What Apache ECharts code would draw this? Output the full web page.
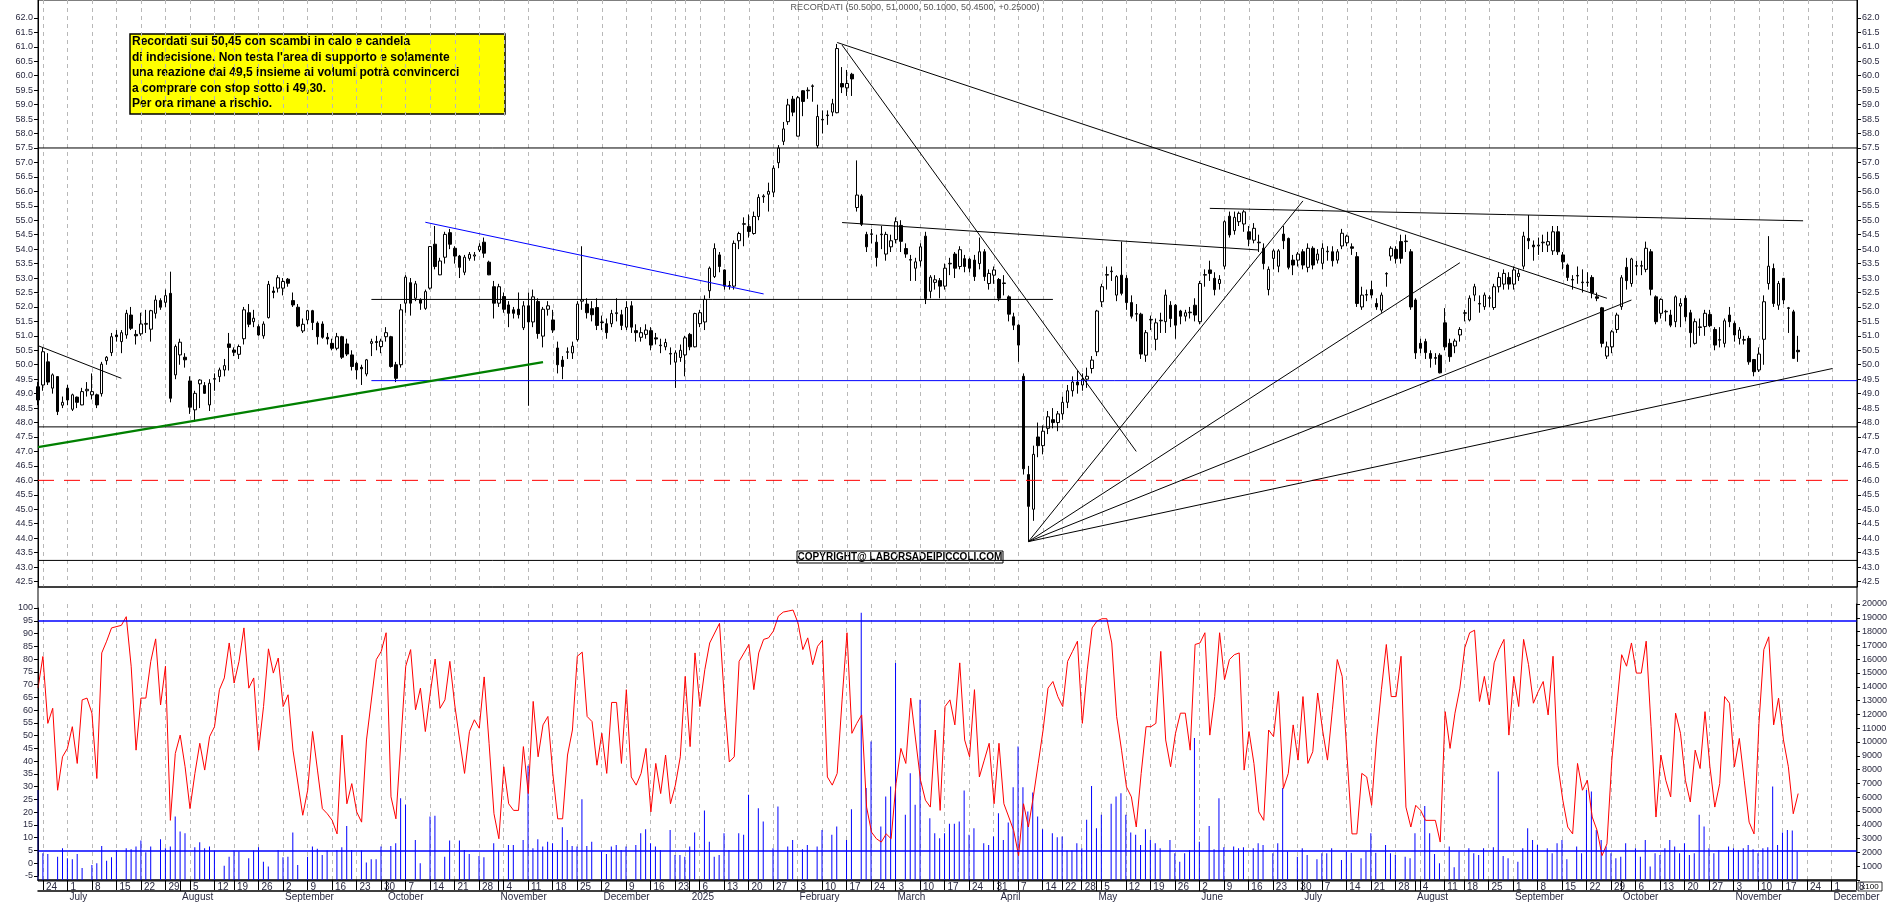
<!DOCTYPE html>
<html><head><meta charset="utf-8">
<script src="https://cdn.jsdelivr.net/npm/echarts@6.0.0/dist/echarts.min.js"></script>
<style>html,body{margin:0;padding:0;background:#fff}#c{width:1890px;height:902px}</style>
</head><body><div id="c"></div>
<script>
// ---------- DATA ----------
const startDate = '2024-06-21', endDate = '2025-12-08';
const holidays = ['2024-08-15','2024-12-24','2024-12-25','2024-12-26','2024-12-31','2025-01-01','2025-04-18','2025-04-21','2025-05-01','2025-08-15'];
const lastCandleDate = '2025-11-20';
const monthNames = ['2025','February','March','April','May','June','July','August','September','October','November','December'];
const priceTicks = [42.5,43.0,43.5,44.0,44.5,45.0,45.5,46.0,46.5,47.0,47.5,48.0,48.5,49.0,49.5,50.0,50.5,51.0,51.5,52.0,52.5,53.0,53.5,54.0,54.5,55.0,55.5,56.0,56.5,57.0,57.5,58.0,58.5,59.0,59.5,60.0,60.5,61.0,61.5,62.0];
// candles [open, close, low, high]
const ohlc = [
[49.24,48.78,48.6,49.4],[49.3,50.45,49.1,50.6],[50.1,49.4,49.3,50.4],[49.19,49.65,49.0,49.7],[49.59,48.38,48.26,49.6],[48.6,48.7,48.5,48.9],[49.19,48.78,48.6,49.3],[48.46,48.96,48.4,49.0],[48.88,48.7,48.5,48.9],[48.61,49.07,48.6,49.2],
[49.1,49.15,48.9,49.4],[48.96,49.07,48.8,49.7],[48.96,48.61,48.5,49.0],[49.0,50.02,48.9,50.1],[50.14,50.26,50.0,50.3],[50.42,50.97,50.3,51.1],[51.03,50.97,50.8,51.2],[50.8,51.11,50.4,51.2],[51.03,51.78,50.9,51.9],[51.72,51.26,51.2,52.0],
[51.05,51.0,50.7,51.2],[51.07,51.41,51.0,51.8],[51.4,51.43,51.1,51.9],[51.23,51.87,50.8,51.9],[51.78,52.24,51.6,52.4],[52.22,51.99,51.9,52.3],[52.16,52.39,52.0,52.6],[52.47,48.84,48.7,53.22],[49.65,50.63,49.5,50.7],[50.34,50.78,50.0,50.9],
[50.26,50.17,49.9,50.4],[49.44,48.53,48.3,49.6],[48.44,49.01,48.03,49.1],[49.34,49.47,48.5,49.5],[49.28,49.01,49.0,49.4],[48.61,49.36,48.4,49.5],[49.5,49.52,49.1,49.7],[49.59,49.82,49.4,49.9],[49.82,49.97,49.6,50.2],[50.72,50.6,49.8,51.1],
[50.51,50.43,50.3,50.6],[50.36,50.63,50.2,50.7],[50.9,51.9,50.7,52.0],[51.8,51.4,51.3,52.1],[51.49,51.61,51.3,51.9],[51.32,51.03,51.0,51.4],[51.0,51.41,50.9,51.5],[51.63,52.78,51.6,52.9],[52.55,52.5,52.3,52.7],[52.65,53.01,52.5,53.1],
[52.65,52.88,52.4,53.0],[52.96,52.82,52.7,53.0],[52.22,52.07,52.0,52.5],[51.99,51.34,51.3,52.1],[51.17,51.4,51.1,51.6],[51.55,51.87,51.4,51.9],[51.87,51.46,51.2,51.9],[51.44,50.97,50.7,51.5],[51.41,50.95,50.9,51.5],[50.95,50.89,50.7,51.1],
[50.74,50.57,50.5,50.9],[50.57,50.97,50.5,51.1],[50.97,50.26,50.2,51.0],[50.72,50.37,50.3,50.9],[50.34,49.94,49.8,50.5],[50.05,49.82,49.5,50.1],[49.91,49.86,49.3,50.0],[49.68,50.17,49.6,50.2],[50.74,50.8,50.3,50.9],[50.8,50.77,50.5,51.0],
[50.63,50.82,50.4,50.9],[50.97,51.11,50.8,51.3],[50.97,49.94,49.9,51.0],[50.0,49.53,49.4,50.1],[50.0,51.9,49.9,52.1],[52.13,53.03,51.8,53.1],[52.84,52.13,51.7,53.0],[52.3,52.8,52.2,52.9],[52.24,52.13,51.9,52.3],[51.95,52.53,51.9,52.6],
[52.65,54.09,52.6,54.1],[54.17,53.4,53.3,54.8],[53.11,53.59,53.1,53.7],[53.72,54.51,53.5,54.6],[54.57,54.17,54.0,54.7],[54.03,53.76,53.5,54.1],[53.76,53.37,53.0,53.8],[53.2,53.72,53.1,53.8],[53.68,53.82,53.6,53.9],[53.76,53.8,53.6,53.9],
[53.97,54.1,53.9,54.2],[54.24,53.86,53.7,54.4],[53.55,53.11,53.1,53.6],[52.7,52.13,51.6,52.9],[52.13,52.7,52.0,52.8],[52.36,51.92,51.8,52.5],[52.07,51.78,51.3,52.2],[51.9,51.78,51.6,52.0],
[51.92,51.73,51.6,52.5],[51.28,52.04,51.2,52.2],[52.04,51.48,48.58,52.5],[51.48,52.35,51.3,52.6],[52.19,51.08,50.9,52.3],[50.99,51.92,50.6,52.0],[51.92,52.04,51.7,52.2],[51.55,51.2,51.1,51.9],[50.58,50.0,49.7,50.8],[50.16,49.94,49.5,50.3],
[50.43,50.45,50.2,50.6],[50.41,50.64,50.2,50.8],[50.87,52.1,50.8,52.2],[52.2,52.25,51.9,54.1],[52.1,51.8,51.6,52.3],[51.94,51.73,51.5,52.2],[51.98,51.36,51.2,52.3],[51.46,51.48,51.2,51.7],[51.42,51.11,50.9,51.6],[51.42,51.77,51.3,51.9],
[51.77,51.8,51.5,52.3],[51.73,51.36,51.2,51.9],[51.3,51.98,51.2,52.2],[52.04,51.3,51.1,52.2],[51.18,51.11,50.8,51.4],[50.95,51.11,50.8,51.3],[51.05,51.2,50.9,51.4],[51.18,50.68,50.5,51.3],[50.93,50.89,50.7,51.1],[50.66,50.68,50.4,50.9],
[50.62,50.77,50.5,50.9],[50.37,50.39,50.0,50.6],[50.09,50.41,49.2,50.5],[50.25,50.5,50.1,50.7],[50.34,50.93,49.6,51.0],[51.05,50.62,50.5,51.1],[50.62,51.77,50.6,51.8],[51.42,51.8,51.3,51.9],[51.48,52.26,51.2,52.4],[52.56,53.34,52.3,53.4],
[53.05,54.02,53.0,54.2],[53.8,53.4,53.2,53.9],[53.28,52.72,52.6,53.3],[52.72,52.74,52.6,52.9],[52.72,54.2,52.6,54.3],[54.29,54.54,54.0,54.6],[54.86,54.88,54.1,55.1],[54.78,54.61,54.4,55.2],[54.54,55.13,54.5,55.3],[55.13,55.79,55.0,55.9],
[55.81,55.84,55.6,55.9],[55.9,56.0,55.3,56.3],[55.97,56.8,55.8,56.9],[56.99,57.5,56.8,57.6],[57.73,58.16,57.6,58.4],[58.41,58.99,58.3,59.2],[59.19,58.74,58.6,59.3],[57.91,59.24,57.9,59.3],[59.48,59.11,58.6,59.5],[59.48,59.5,59.2,59.6],
[59.63,59.65,59.1,59.7],[57.58,58.59,57.5,59.0],[58.47,58.49,58.0,58.8],[58.62,58.64,58.3,58.8],[58.74,59.03,58.6,59.2],[58.72,60.94,58.7,61.1],[59.73,59.61,59.4,60.3],[59.58,59.73,59.3,60.2],[60.05,59.89,59.3,60.1],[55.44,55.87,55.3,57.07],
[55.84,54.86,54.8,55.9],[54.51,54.08,53.9,54.6],[54.51,54.53,54.2,54.7],[54.24,53.71,53.4,54.5],[54.5,54.52,54.0,54.8],[53.83,54.51,53.6,54.6],[54.08,54.29,53.9,54.5],[54.33,54.95,54.2,55.1],[54.82,54.27,53.9,55.0],[54.02,53.83,53.7,54.2],
[53.62,53.64,52.9,53.8],[53.34,53.56,52.9,53.7],[53.59,54.08,53.4,54.2],[54.45,52.29,52.1,54.6],[52.54,53.03,52.3,53.1],[52.85,52.94,52.6,53.1],[52.91,52.72,52.3,53.0],[52.72,53.34,52.6,53.5],[53.49,53.51,53.1,53.7],[53.83,53.34,53.0,53.9],
[53.4,53.98,53.3,54.1],[53.67,53.4,53.2,53.8],[53.65,53.34,53.2,53.7],
[53.62,53.05,52.9,53.8],[53.5,53.91,53.3,54.4],[53.91,53.05,52.9,54.0],[52.81,53.16,52.6,53.3],[53.1,53.28,52.8,53.4],[52.95,52.3,52.2,53.0],[52.81,52.83,52.4,53.1],[52.35,51.75,51.5,52.4],[51.66,51.37,51.2,51.8],[51.37,50.68,50.1,51.4],
[49.6,46.4,46.2,49.7],[46.2,45.1,43.9,46.5],[45.0,46.9,44.6,47.2],[47.5,47.2,46.8,48.0],[47.2,47.7,46.9,47.9],[47.8,48.2,47.6,48.4],[48.1,48.0,47.8,48.5],[48.0,48.3,47.7,48.4],[48.3,48.7,48.1,48.9],[48.7,49.1,48.5,49.3],
[49.1,49.4,48.9,49.6],[49.4,49.3,49.0,49.8],[49.3,49.5,49.1,49.7],[49.5,49.6,49.2,49.9],[49.87,50.16,49.7,50.3],
[50.45,51.86,50.3,51.9],[52.18,52.7,52.0,52.8],[53.1,53.12,52.6,53.4],[53.22,53.24,52.9,53.4],[52.41,53.05,52.2,53.1],[53.1,52.47,52.4,54.26],[52.99,52.15,51.9,53.1],[52.15,51.68,51.6,52.4],[51.75,51.77,51.5,52.1],[51.75,50.37,50.2,51.8],
[50.33,51.11,50.1,51.2],[51.55,51.57,51.2,51.7],[50.88,51.45,50.5,51.6],[51.52,51.54,51.1,51.8],[51.49,52.41,51.1,52.6],[52.06,51.6,51.3,52.2],[52.06,51.37,50.9,52.1],[51.86,51.68,51.4,51.9],[51.68,51.8,51.5,51.9],[51.8,51.82,51.6,52.0],
[52.06,51.72,51.5,52.3],[51.49,52.81,51.4,52.9],[53.1,53.12,52.7,53.3],[53.28,53.16,52.9,53.6],[52.99,52.6,52.4,53.2],[52.81,52.95,52.6,53.1],[53.41,54.95,53.3,55.0],[55.14,54.49,54.4,55.3],[54.64,55.1,54.5,55.3],[54.95,55.24,54.8,55.3],
[54.87,55.29,54.6,55.35],[54.6,54.34,54.1,54.8],[54.31,54.72,54.2,54.9],[54.22,54.24,53.9,54.5],[54.03,53.5,53.3,54.2],[52.6,53.3,52.4,53.4],[53.68,53.94,53.3,54.0],[53.41,53.94,53.2,54.0],[54.52,54.29,54.0,54.8],[54.37,53.37,53.3,54.4],
[53.62,53.45,53.1,53.8],[53.62,53.83,53.4,53.9],[53.91,53.45,53.3,54.0],[53.37,54.03,53.2,54.2],[54.03,53.45,53.3,54.1],[53.62,53.83,53.5,54.0],[53.51,54.03,53.3,54.2],[53.91,53.93,53.6,54.1],[53.91,53.6,53.4,54.1],[53.62,53.91,53.5,54.0],
[54.11,54.55,54.0,54.7],[54.22,54.45,54.1,54.5],[54.08,54.03,53.8,54.2],[53.74,52.12,52.0,53.9],[52.0,52.41,51.9,52.7],[52.41,52.43,52.2,52.6],[52.6,52.41,52.3,52.9],[52.12,52.0,51.9,52.3],[51.89,52.41,51.8,52.5],[53.14,53.16,52.7,53.2],
[53.76,54.03,53.6,54.1],[53.99,53.68,53.5,54.1],[54.26,53.68,53.5,54.5],[54.26,54.28,53.9,54.5],[53.91,52.0,51.9,54.0],[52.24,50.41,50.2,52.3],
[50.74,50.57,50.4,50.9],[50.8,50.42,50.2,50.9],[50.39,50.22,49.9,50.5],[50.22,50.25,50.0,50.4],[50.33,49.72,49.7,50.4],[51.45,50.62,50.5,51.96],[50.74,50.28,50.1,50.9],[50.65,50.82,50.4,50.9],[51.03,51.22,50.8,51.3],[51.78,51.8,51.5,51.9],
[51.55,52.3,51.5,52.4],[52.41,52.7,52.2,52.8],[52.1,52.12,51.8,52.4],[52.01,52.41,51.9,52.5],[52.3,52.32,52.0,52.4],[51.98,52.7,51.9,52.8],[52.7,53.02,52.5,53.2],[52.79,53.16,52.6,53.3],[53.02,52.79,52.6,53.2],[52.79,53.28,52.6,53.4],
[53.05,53.16,52.9,53.3],[53.41,54.45,53.3,54.6],[54.37,54.29,54.0,55.18],[54.14,54.08,53.6,54.3],[54.11,54.14,53.8,54.4],[54.22,54.24,53.9,54.5],[54.14,54.26,53.9,54.6],[53.94,54.6,53.8,54.8],[54.6,53.91,53.8,54.8],[53.8,53.56,53.3,53.9],
[53.45,53.02,52.9,53.5],[52.93,52.95,52.6,53.1],[53.07,53.09,52.8,53.4],[52.84,52.86,52.5,53.3],[52.84,52.86,52.7,53.2],[53.02,52.49,52.3,53.1],[52.35,52.3,52.2,52.5],[51.97,50.74,50.6,52.0],[50.3,50.62,50.2,50.8],[50.62,51.14,50.4,51.2],
[51.22,51.72,51.1,51.8],[52.01,53.01,51.9,53.1],[53.37,52.91,52.6,53.7],[52.81,53.66,52.7,53.7],[53.41,53.43,53.1,53.6],[53.41,53.43,53.1,53.6],[53.3,54.03,53.2,54.26],[53.91,52.61,52.4,54.0],[52.35,51.49,51.4,52.4],[51.78,52.26,51.6,52.3],
[51.83,51.85,51.5,51.9],[51.72,51.37,51.3,51.9],[51.49,52.35,51.3,52.4],[52.03,52.12,51.3,52.3],[52.3,51.66,51.5,52.4],[51.8,51.11,50.6,51.9],[50.74,51.49,50.7,51.6],[51.29,51.31,51.0,51.6],[51.32,51.78,51.0,51.9],[51.74,51.35,51.3,51.9],
[51.22,50.68,50.5,51.3],[50.85,50.87,50.6,51.3],[50.74,51.52,50.6,51.6],[51.72,51.49,51.3,52.0],[51.43,51.03,50.8,51.5],[50.91,51.2,50.7,51.3],[50.85,50.87,50.7,51.0],[50.91,50.1,50.0,51.0],[50.18,49.76,49.6,50.2],[49.82,50.37,49.75,50.6],
[50.88,52.18,50.0,52.4],[52.81,53.41,52.6,54.45],[53.33,52.12,52.0,53.5],[52.06,52.81,51.9,52.9],[52.99,52.24,52.1,53.0],[51.95,51.97,51.1,52.0],[51.83,50.22,50.2,51.9],[50.5,50.45,50.1,51.0]
];
// stochastic key readings [tradingDayIndex, value]
const stochA = [[0,68.6],[1,81],[2,54.8],[3,60.7],[4,28.6],[5,41.7],[6,45],[7,53.5],[8,39.1],[9,64],[10,64.7],[11,58.8],[12,33.2],[13,82.4],[14,87],[15,92.2],[17,93.2],[18,96.6],[19,77.2],[20,44.3],[21,64.7],[22,64.7],[23,79.1],[24,87.9],[25,62],[26,77.2],[27,16.8],[28,43],[29,50.2],[30,37.8],[31,21.4],[32,35.2],[33,47],[34,36.5],[35,49.6],[36,53.5],[37,68],[38,72.6],[39,86.3],[40,70.6],[41,79.1],[42,92.2],[43,68.6],[44,72.6],[45,44.3],[46,61.4],[47,84],[48,74.5],[49,80.4],[50,61.4],[51,66],[52,44.3],[54,18.8],[55,28.6],[56,51.6],[57,36.5],[58,21.4],[59,19.4],[60,16.8],[61,11.5],[62,50.2],[63,23.3],[64,31.2],[65,20.1],[66,16.1],[67,48.3],[69,79.8],[70,83],[71,90.3],[72,26],[73,17.4],[75,77.2],[76,83.7],[77,60.1],[78,68.6],[79,51.6],[80,66.7],[81,80],[82,60.7],[83,64],[84,79.1],[85,62],[86,48.3],[87,35.2],[88,51.6],[89,56.2],[90,52.9],[91,73],[92,47],[93,19.4],[94,9.6],[95,37.8],[96,23.3],[97,20.7],[98,20.7],[99,45.7],[100,27.3],[101,63.4],[102,41.7],[103,54.2],[104,57.5],[105,35.2],[106,17.4],[107,17.4],[108,42.4],[109,52.2],[110,81.1],[111,82.7],[112,57.5],[113,55.5],[114,38.4],[115,50.9],[116,35.2],[117,63],[118,63],[119,39.1],[120,68],[121,33.8],[122,30.6],[123,35.2],[124,45],[125,20.1],[126,39.1],[127,27.3],[128,42.4],[129,23.3],[130,30.6],[131,41.7],[132,73.2],[133,45.7],[134,82.4],[135,61.4],[136,75.8],[137,86.3],[139,94],[140,64],[141,39.7],[142,41.7],[143,79.1],[144,82.4],[145,85.7],[146,68],[147,82.4],[148,87.7],[149,88.3],[150,91],[151,96.8],[152,98.4],[153,98.8],[154,99.2],[155,94.2],[156,83.7],[157,88.3],[158,77.8],[159,85],[160,87.4],[161,33.8],[162,30.6],[163,35.2],[164,64],[165,90.3],[166,50.9],[167,54.8],[168,58.1],[169,22],[170,12.2],[171,9.6],[172,8.3],[173,11.5],[174,9.6],[175,31.2],[176,45],[177,39.1],[178,64.7],[179,48.3],[180,32.5],[181,24.7],[182,22],[183,52.2],[184,20.7],[185,41.7]];
const stochB = [[186,61.4],[187,64],[188,54.2],[189,78.5],[190,48.3],[191,41.7],[192,68],[193,33.8],[194,40.4],[195,47],[196,23.3],[197,47],[198,23.3],[199,18.1],[200,12.8],[201,3],[202,23.3],[203,14.2],[204,26],[205,39.1],[206,52.2],[207,68.6],[208,71.2],[209,65.3],[210,61.4],[211,79.1],[212,83],[213,87],[214,54.8],[215,75.8],[216,92.2],[217,94.9],[218,95.8],[219,95.8],[220,86.3],[221,57.5],[222,44.3],[223,29.9],[224,26],[225,14.2],[226,35.2],[227,53.5],[228,53.5],[229,54.8],[230,83],[231,48.3],[232,37.8],[233,50.9],[234,58.8],[235,58.8],[236,44.3],[237,85.7],[238,86.3],[239,90.3],[240,50.2],[241,65.3],[242,90.3],[243,71.9],[244,79.8],[245,81.7],[246,82.4],[247,36.5],[248,51.6],[249,39.1],[250,20.1],[251,16.8],[252,52.2],[253,49.6],[254,67.3],[255,29.3],[256,35.2],[257,54.2],[258,40.4],[259,65.3],[260,39.1],[261,43.7],[262,66.7],[263,52.2],[264,40.4],[265,60.1],[266,79.8],[267,73.2],[268,41.7],[269,11.5],[270,11.5],[271,35.2],[272,33.8],[273,22.7],[274,48.3],[275,68],[276,85.7],[277,65.3],[278,65.3],[279,81.1],[280,22],[281,14.2],[282,22.7],[283,20.7],[284,16.8],[286,16.8],[287,8.3],[288,59.4],[289,45],[290,58.8],[291,68.6],[292,84.4],[293,90.3],[294,91.3],[295,63.4],[296,73.2],[297,62],[298,78.5],[299,83.7],[300,87.7],[301,50.2],[302,73.2],[303,61.4],[304,87.7],[305,77.8],[306,62.7],[307,67.3],[308,71.2],[309,58.1],[310,81.1],[311,38.4],[312,24.7],[313,14.2],[314,11.5],[315,39.1],[316,28.6],[317,32.5],[318,18.1],[319,12.8],[320,3],[321,7.6],[322,40.4],[323,61.4],[324,81.7],[325,77.2],[326,86.3],[327,74.5],[328,74.5],[329,87],[330,53.5],[331,18.1],[332,42.4],[333,32.5],[334,26],[335,58.8],[336,50.9],[337,32.5],[338,24],[339,44.3],[340,37.1],[341,59.4],[342,37.8],[343,22],[344,31.2],[345,65.3],[346,62.7],[347,37.8],[348,48.9],[349,32.5],[350,16.1],[351,11.5],[352,54.8],[353,83.7],[354,88.7],[355,54.2],[356,64.7],[357,48.3],[358,37.8],[359,19.4],[360,27.3]];
// volumes (axis units, x100) read left to right, with anchors [valueIndex, tradingDayIndex]
const volA = [6530,1940,1890,1690,2300,1570,1500,1890,870,1090,1210,2470,1400,1650,2180,2300,2230,2420,2860,2010,2420,2950,2300,2420,4600,3510,3390,2370,2730,2300,2420,2130,1040,1690,2130,2060,1570,2130,2370,1330,970,2180,1650,1690,3440,1090,1690,2420,2270,1820,2130,2180,2370,3920,2180,2130,1260,1500,1500,2420,2470,2660,5930,5450,2900,1210,4600,4650,1690,2860,2860,2180,1890,1740,1650,2660,2130,2540,2540,2900,8280,2300,2950,2420,2780,2660,2180,3820,2900,2470,2420,5860,2470,2780,2060,1890,2420,2540,2180,2420,2540,3390,3680,2660,2420,2180,3630,1820,1820,1690,2420,3440,5030,2780,1690,1820,3390,2180,3390,3270,6170,5200,4240,2300,5320,2420,2900,2230,2540,2420,3630,3270,3870,2900,5130,19360,6660,10040,3870,6050,6780,15730,4720,7740,5450,13070,4480,3390,3030];
const volAAnchors = [[0,0],[24,28],[62,74],[80,100],[91,111],[120,145],[135,168],[148,184]];
const volB = [3390,4070,4070,4240,6490,3270,3750,2660,2540,3150,4840,2900,4160,6730,9680,6730,4960,6340,4600,3680,3390,3100,3150,2130,2130,2660,2300,4360,6820,3750,4720,5520,6050,6290,4720,3440,3270,2540,3680,2900,2660,2300,2900,1940,1330,1940,2180,10290,2780,3920,2230,5930,2370,2420,2300,2370,2300,2660,2540,1940,2660,6660,2060,1690,2300,1820,1500,1940,1940,2300,1450,2060,1980,1570,2060,3390,1980,2540,1940,1820,1690,1570,3390,5370,3390,1890,1210,2420,920,2060,2300,1940,1820,2300,2370,7870,1740,1570,1330,2300,3750,2900,2540,2300,1940,2660,2900,1500,2420,1940,6530,6410,3630,2900,2420,1940,1570,1690,2660,2300,1690,2900,970,1940,1820,2300,2900,2420,1940,2660,1820,1940,4720,3870,2300,1940,2180,2420,2300,2180,2300,2540,2230,1940,2300,2370,6780,2540,3440,2420,3630,3580,2060];
const volBAnchors = [[0,185],[14,200],[47,236],[95,298],[110,316],[146,354],[152,359]];
const stochLevels = [5, 95];
// drawn studies: [[dayIndex, price], [dayIndex, price]]
const trendLines = [
 {pts:[[0,57.5],[371,57.5]], color:'#000'},
 {pts:[[0,47.85],[371,47.85]], color:'#000'},
 {pts:[[0,43.23],[371,43.23]], color:'#000'},
 {pts:[[0,46.0],[371,46.0]], color:'#ff0000', dash:true},
 {pts:[[68,49.45],[371,49.45]], color:'#0000ff'},
 {pts:[[68,52.26],[207,52.26]], color:'#000'},
 {pts:[[0,47.15],[102.6,50.09]], color:'#008000', w:2.5},
 {pts:[[0,50.66],[17.1,49.53]], color:'#000'},
 {pts:[[79.4,54.93],[147.7,52.45]], color:'#0000ff'},
 {pts:[[163.1,61.15],[320.2,52.3]], color:'#000'},
 {pts:[[163.9,61.06],[223.7,47.0]], color:'#000'},
 {pts:[[164,54.92],[248.8,53.97]], color:'#000'},
 {pts:[[238.5,55.41],[360.3,54.98]], color:'#000'},
 {pts:[[201.5,43.88],[257.7,55.67]], color:'#000'},
 {pts:[[201.5,43.88],[289.8,53.53]], color:'#000'},
 {pts:[[201.5,43.88],[325.3,52.24]], color:'#000'},
 {pts:[[201.5,43.88],[366.4,49.87]], color:'#000'}
];
const noteLines = ["Recordati sui 50,45 con scambi in calo e candela","di indecisione. Non testa l'area di supporto e solamente","una reazione dai 49,5 insieme ai volumi potrà convincerci","a comprare con stop sotto i 49,30.","Per ora rimane a rischio."];
const titleText = 'RECORDATI (50.5000, 51.0000, 50.1000, 50.4500, +0.25000)';
const copyrightText = 'COPYRIGHT@ LABORSADEIPICCOLI.COM';

// ---------- BUILD ----------
const pad = n => String(n).padStart(2,'0');
const hol = new Set(holidays);
const dates = [];
{ let d = new Date(startDate+'T00:00:00Z'); const e = new Date(endDate+'T00:00:00Z');
  while (d <= e) { const w = d.getUTCDay(); const s = d.getUTCFullYear()+'-'+pad(d.getUTCMonth()+1)+'-'+pad(d.getUTCDate());
    if (w>0 && w<6 && !hol.has(s)) dates.push(s); d = new Date(d.getTime()+86400000); } }
const N = dates.length;
const dow = s => new Date(s+'T00:00:00Z').getUTCDay();
const weekStart = dates.map((s,i)=> i>0 && dow(s) < dow(dates[i-1]));
const monthStart = dates.map((s,i)=> i>0 && s.slice(5,7)!==dates[i-1].slice(5,7));
// hide a week label when it would crowd the previous one
const weekLabel = new Array(N).fill(false);
{ let last = -10; for (let i=0;i<N;i++) if (weekStart[i]) { if (i-last>=4) { weekLabel[i]=true; last=i; } } }
const lastIdx = dates.indexOf(lastCandleDate);
const firstIdx = lastIdx - ohlc.length + 1;
const candleData = dates.map((_,i)=>{ const k=i-firstIdx; return (k>=0 && k<ohlc.length)? ohlc[k] : '-'; });
const stochData = new Array(N).fill(null);
stochA.forEach(([i,v])=>{ if(i>=0&&i<N) stochData[i]=v; });
stochB.forEach(([i,v])=>{ const j=Math.min(i-1,lastIdx); if(j>=0) stochData[j]=v; });
const volData = new Array(N).fill('-');
function placeVol(vals, anchors){
  for(let a=0;a<anchors.length-1;a++){
    const [k0,d0]=anchors[a],[k1,d1]=anchors[a+1];
    for(let k=k0;k<(a===anchors.length-2?k1+1:k1);k++){ const d=Math.round(d0+(k-k0)*(d1-d0)/(k1-k0)); if(d>=0&&d<N&&k<vals.length) volData[d]=vals[k]; }
  }
}
placeVol(volA, volAAnchors); placeVol(volB, volBAnchors);

const FONT = 'Liberation Sans';
const lblStyle = {fontFamily:FONT, fontSize:9, color:'#2a2a40'};
const G = {left:38, right:33};
const chart = echarts.init(document.getElementById('c'), null, {renderer:'canvas'});
const splitWeek = {show:true, interval:(i)=>weekStart[i], lineStyle:{color:'#b8b8b8', type:[4,4], width:1}};

const series = [
 {type:'candlestick', xAxisIndex:0, yAxisIndex:0, data:candleData, barWidth:3,
  itemStyle:{color:'#ffffff', color0:'#000000', borderColor:'#000000', borderColor0:'#000000', borderWidth:1}, z:5},
 {type:'line', xAxisIndex:1, yAxisIndex:2, data:stochData, connectNulls:true, showSymbol:false, symbol:'none',
  lineStyle:{color:'#ff0000', width:1}, z:4, silent:true,
  markLine:{silent:true, symbol:'none', label:{show:false}, lineStyle:{color:'#0000ff', width:1.5, type:'solid'}, data:stochLevels.map(v=>({yAxis:v}))}},
 {type:'bar', xAxisIndex:2, yAxisIndex:3, data:volData, barWidth:1, itemStyle:{color:'#0000ff'}, z:3, silent:true}
];
trendLines.forEach(t=>series.push({type:'line', xAxisIndex:0, yAxisIndex:0, data:t.pts, showSymbol:false, symbol:'none', silent:true, z:6,
  lineStyle:{color:t.color, width:t.w||1, type:t.dash?[16,10]:'solid'}}));

const priceAxis = (pos)=>({type:'value', gridIndex:0, position:pos, min:42.31, max:62.62, scale:true,
  axisLine:{show:true, lineStyle:{color:'#000'}}, splitLine:{show:false},
  axisTick:{show:true, customValues:priceTicks, length:4, inside:false, lineStyle:{color:'#000'}},
  axisLabel:{customValues:priceTicks, formatter:v=>v.toFixed(1), margin:5, ...lblStyle}});

chart.setOption({
 animation:false, backgroundColor:'#ffffff',
 grid:[
  {left:G.left, right:G.right, top:0, height:587, show:true, borderColor:'#000', borderWidth:1, backgroundColor:'transparent'},
  {left:G.left, right:G.right, top:608, height:268},
  {left:G.left, right:G.right, top:604, height:276}
 ],
 xAxis:[
  {type:'category', gridIndex:0, data:dates, boundaryGap:false, axisLine:{show:false}, axisTick:{show:false}, axisLabel:{show:false}, splitLine:splitWeek},
  {type:'category', gridIndex:1, data:dates, boundaryGap:false, show:false},
  {type:'category', gridIndex:2, data:dates, boundaryGap:false, position:'bottom',
   axisLine:{show:true, lineStyle:{color:'#000', width:1.5}},
   axisTick:{show:true, interval:(i)=>weekLabel[i], length:10, lineStyle:{color:'#000'}},
   axisLabel:{interval:(i)=>weekLabel[i], formatter:(v)=>String(parseInt(v.slice(8,10),10)), align:'left', margin:2, padding:[0,0,0,3], ...lblStyle, fontSize:10},
   splitLine:splitWeek},
  {type:'category', gridIndex:2, data:dates, boundaryGap:false, position:'bottom', offset:11,
   axisLine:{show:true, lineStyle:{color:'#000', width:1.5}},
   axisTick:{show:true, interval:(i)=>monthStart[i], length:10, inside:true, lineStyle:{color:'#000'}},
   axisLabel:{interval:(i)=>monthStart[i], formatter:(v)=>{const m=parseInt(v.slice(5,7),10); return m===1? v.slice(0,4) : monthNames[m-1];}, align:'left', margin:1, padding:[0,0,0,2], ...lblStyle, fontSize:10},
   splitLine:{show:false}}
 ],
 yAxis:[
  priceAxis('left'), priceAxis('right'),
  {type:'value', gridIndex:1, position:'left', min:-5, max:100, interval:5, axisLine:{show:true, lineStyle:{color:'#000'}}, axisTick:{show:true, length:4}, splitLine:{show:false}, axisLabel:{margin:5, ...lblStyle}},
  {type:'value', gridIndex:2, position:'right', min:0, max:20000, interval:1000, axisLine:{show:true, lineStyle:{color:'#000'}}, axisTick:{show:true, length:4}, splitLine:{show:false}, axisLabel:{margin:6, formatter:v=>v===0?'':String(v), ...lblStyle}}
 ],
 series,
 graphic:[
  {type:'rect', shape:{x:38, y:587, width:1819, height:294}, style:{fill:'none', stroke:'#000', lineWidth:1}, silent:true, z:10},
  {type:'text', x:915, y:3, style:{text:titleText, fill:'#555', font:'9px '+FONT, textAlign:'center'}, z:20},
  {type:'group', x:130, y:34, z:30, children:[
    {type:'rect', shape:{x:0, y:0, width:375, height:80}, style:{fill:'#ffff00', stroke:'#000', lineWidth:1.5}},
    ...noteLines.map((t,i)=>({type:'text', x:2, y:2+i*15.5, style:{text:t, fill:'#000', font:'bold 12px '+FONT}}))
  ]},
  {type:'group', x:797, y:551, z:30, children:[
    {type:'rect', shape:{x:0, y:0, width:206, height:12}, style:{fill:'#fff', stroke:'#000', lineWidth:1}},
    {type:'text', x:103, y:1.5, style:{text:copyrightText, fill:'#000', font:'bold 10px '+FONT, textAlign:'center'}}
  ]},
  {type:'group', x:1858, y:882, z:30, children:[
    {type:'rect', shape:{x:0, y:0, width:24, height:9}, style:{fill:'#fff', stroke:'#000', lineWidth:0.8}},
    {type:'text', x:12, y:1, style:{text:'x100', fill:'#000', font:'8px '+FONT, textAlign:'center'}}
  ]}
 ]
});
</script></body></html>
